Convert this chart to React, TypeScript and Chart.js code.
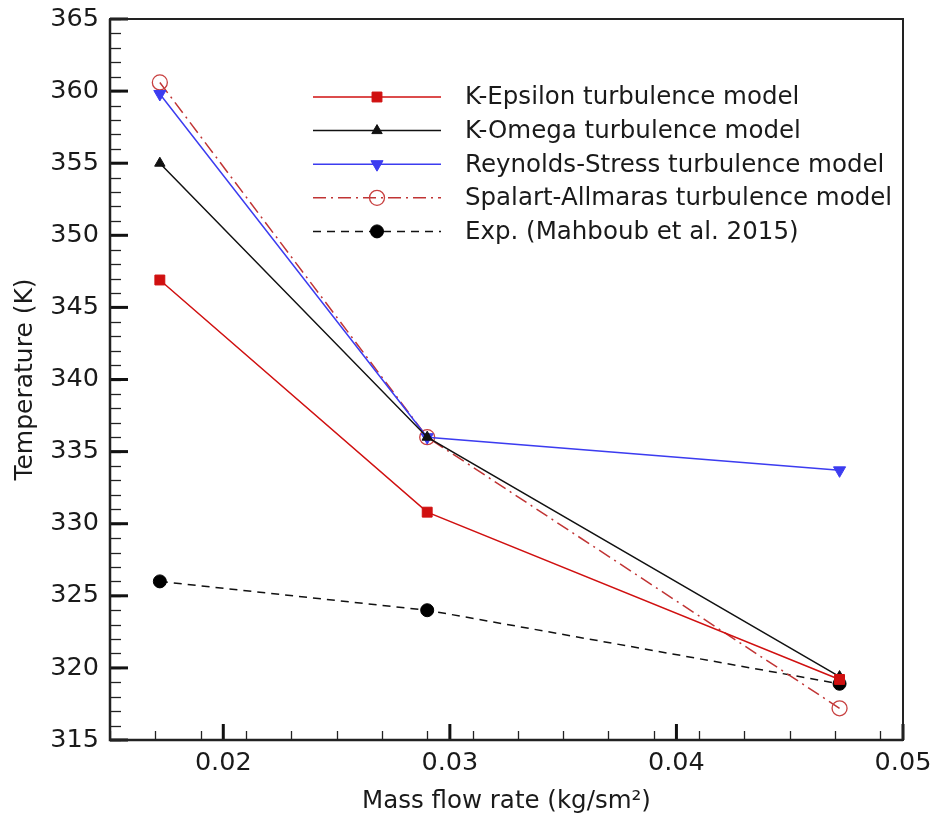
import React, { useEffect, useRef } from "react";
import { Chart, registerables } from "chart.js";
import { drawPoint } from "chart.js/helpers";

Chart.register(...registerables);

const massFlow = [0.0172, 0.029, 0.0472];
const kEpsilon = [346.9, 330.8, 319.2];
const kOmega = [355.0, 336.0, 319.4];
const reynolds = [359.8, 336.0, 333.7];
const spalart = [360.6, 336.0, 317.2];
const experiment = [326.0, 324.0, 318.9];
const seriesNames = [
  "K-Epsilon turbulence model",
  "K-Omega turbulence model",
  "Reynolds-Stress turbulence model",
  "Spalart-Allmaras turbulence model",
  "Exp. (Mahboub et al. 2015)",
];
const xTicks = [0.02, 0.03, 0.04, 0.05];
const xMinorStep = 0.002;
const yMinorStep = 1;

const FONT = "'DejaVu Sans', Arial, sans-serif";

const pts = (ys: number[]) => ys.map((y, i) => ({ x: massFlow[i], y }));

const frameAndLegend = {
  id: "frameAndLegend",
  afterDatasetsDraw(chart: any) {
    const { ctx, chartArea: a, scales } = chart;
    const xs = scales.x;
    const ys = scales.y;
    ctx.save();
    // minor ticks
    ctx.strokeStyle = "#222";
    ctx.lineWidth = 1.3;
    for (let v = xs.min; v <= xs.max + 1e-9; v += xMinorStep) {
      const px = Math.round(xs.getPixelForValue(v)) + 0.5;
      ctx.beginPath();
      ctx.moveTo(px, a.bottom);
      ctx.lineTo(px, a.bottom - 9);
      ctx.stroke();
    }
    for (let v = ys.min; v <= ys.max + 1e-9; v += yMinorStep) {
      const py = Math.round(ys.getPixelForValue(v)) + 0.5;
      ctx.beginPath();
      ctx.moveTo(a.left, py);
      ctx.lineTo(a.left + 11, py);
      ctx.stroke();
    }
    // major ticks
    ctx.lineWidth = 3;
    ctx.strokeStyle = "#111";
    xs.ticks.forEach((t: any) => {
      const px = xs.getPixelForValue(t.value);
      ctx.beginPath();
      ctx.moveTo(px, a.bottom);
      ctx.lineTo(px, a.bottom - 16);
      ctx.stroke();
    });
    ys.ticks.forEach((t: any) => {
      const py = ys.getPixelForValue(t.value);
      ctx.beginPath();
      ctx.moveTo(a.left, py);
      ctx.lineTo(a.left + 18, py);
      ctx.stroke();
    });
    // frame
    ctx.lineWidth = 2;
    ctx.strokeStyle = "#222";
    ctx.strokeRect(a.left, a.top, a.right - a.left, a.bottom - a.top);
    ctx.lineWidth = 2.5;
    ctx.beginPath();
    ctx.moveTo(a.left, a.top);
    ctx.lineTo(a.left, a.bottom);
    ctx.lineTo(a.right, a.bottom);
    ctx.stroke();

    // legend
    const x0 = 313, x1 = 441, xm = 377, xt = 465, y0 = 97, dy = 33.6;
    chart.data.datasets.forEach((ds: any, i: number) => {
      const y = y0 + i * dy;
      ctx.save();
      ctx.strokeStyle = ds.borderColor;
      ctx.lineWidth = ds.borderWidth;
      ctx.setLineDash(ds.borderDash || []);
      ctx.beginPath();
      ctx.moveTo(x0, y);
      ctx.lineTo(x1, y);
      ctx.stroke();
      ctx.setLineDash([]);
      ctx.fillStyle = ds.pointBackgroundColor;
      ctx.strokeStyle = ds.pointBorderColor;
      ctx.lineWidth = ds.pointBorderWidth;
      drawPoint(ctx, {
        pointStyle: ds.pointStyle,
        rotation: ds.pointRotation || 0,
        radius: ds.pointRadius,
        borderWidth: ds.pointBorderWidth,
      }, xm, y);
      ctx.restore();
      ctx.fillStyle = "#1a1a1a";
      ctx.font = `24.5px ${FONT}`;
      ctx.textBaseline = "middle";
      ctx.textAlign = "left";
      ctx.fillText(ds.label, xt, y + 1);
    });
    ctx.restore();
  },
};

export default function App() {
  const ref = useRef<HTMLCanvasElement | null>(null);
  useEffect(() => {
    document.body.style.margin = "0";
    const canvas = ref.current;
    if (!canvas) return;
    const red = "#d01010";
    const chart = new Chart(canvas, {
      type: "line",
      data: {
        datasets: [
          {
            label: seriesNames[0],
            data: pts(kEpsilon),
            borderColor: red,
            borderWidth: 1.5,
            pointStyle: "rect",
            pointRadius: 7,
            pointBackgroundColor: red,
            pointBorderColor: red,
            pointBorderWidth: 1,
          },
          {
            label: seriesNames[1],
            data: pts(kOmega),
            borderColor: "#111111",
            borderWidth: 1.5,
            pointStyle: "triangle",
            pointRadius: 6,
            pointBackgroundColor: "#111111",
            pointBorderColor: "#111111",
            pointBorderWidth: 1,
          },
          {
            label: seriesNames[2],
            data: pts(reynolds),
            borderColor: "#3c3cf0",
            borderWidth: 1.5,
            pointStyle: "triangle",
            pointRotation: 180,
            pointRadius: 7,
            pointBackgroundColor: "#3c3cf0",
            pointBorderColor: "#3c3cf0",
            pointBorderWidth: 1,
          },
          {
            label: seriesNames[3],
            data: pts(spalart),
            borderColor: "#c03434",
            borderWidth: 1.5,
            borderDash: [13, 5, 2, 5],
            pointStyle: "circle",
            pointRadius: 7.5,
            pointBackgroundColor: "rgba(255,255,255,0)",
            pointBorderColor: "#c84040",
            pointBorderWidth: 1.3,
          },
          {
            label: seriesNames[4],
            data: pts(experiment),
            borderColor: "#111111",
            borderWidth: 1.5,
            borderDash: [8, 6],
            pointStyle: "circle",
            pointRadius: 6.5,
            pointBackgroundColor: "#000000",
            pointBorderColor: "#000000",
            pointBorderWidth: 1,
          },
        ],
      },
      options: {
        animation: false,
        responsive: false,
        maintainAspectRatio: false,
        layout: { padding: { top: 19, right: 32, bottom: 0, left: 0 } },
        plugins: {
          legend: { display: false },
          tooltip: { enabled: false },
        },
        scales: {
          x: {
            type: "linear",
            min: 0.015,
            max: 0.05,
            grid: { display: false, drawTicks: false },
            border: { display: false },
            afterBuildTicks: (s: any) => {
              s.ticks = xTicks.map((v) => ({ value: v }));
            },
            afterFit: (s: any) => {
              s.height = 76;
              s.paddingLeft = 0;
              s.paddingRight = 0;
            },
            ticks: {
              padding: 8,
              color: "#1a1a1a",
              font: { family: FONT, size: 25.5 },
              callback: (v: any) => Number(v).toFixed(2),
            },
            title: {
              display: true,
              text: "Mass flow rate (kg/sm²)",
              color: "#1a1a1a",
              font: { family: FONT, size: 24.5 },
              padding: { top: 0, bottom: 0 },
            },
          },
          y: {
            type: "linear",
            min: 315,
            max: 365,
            grid: { display: false, drawTicks: false },
            border: { display: false },
            afterFit: (s: any) => {
              s.width = 110;
              s.paddingTop = 0;
              s.paddingBottom = 0;
            },
            ticks: {
              stepSize: 5,
              padding: 11,
              color: "#1a1a1a",
              font: { family: FONT, size: 25.5 },
            },
            title: {
              display: true,
              text: "Temperature (K)",
              color: "#1a1a1a",
              font: { family: FONT, size: 25 },
              padding: { top: 10, bottom: 0 },
            },
          },
        },
      },
      plugins: [frameAndLegend],
    } as any);
    return () => chart.destroy();
  }, []);
  return (
    <div style={{ width: 935, height: 816 }}>
      <canvas ref={ref} width={935} height={816} style={{ display: "block" }} />
    </div>
  );
}
